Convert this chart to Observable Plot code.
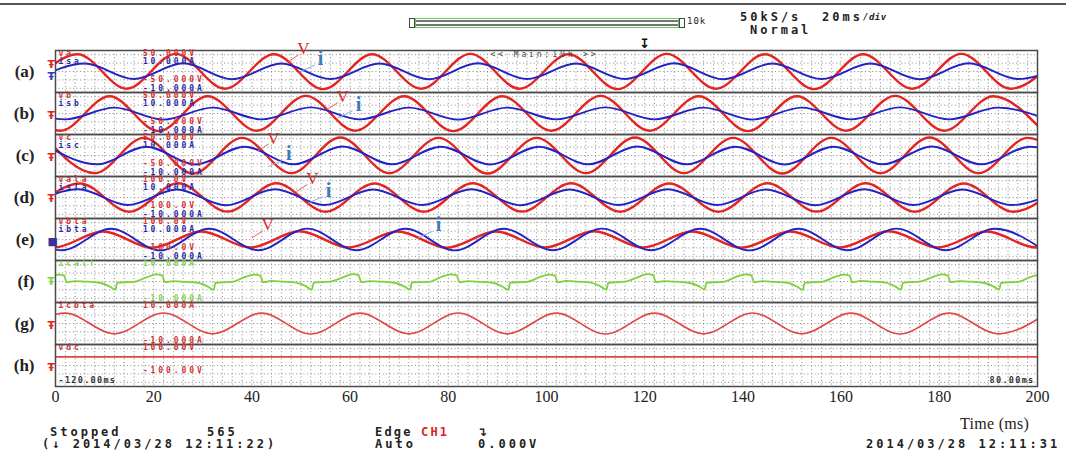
<!DOCTYPE html>
<html><head><meta charset="utf-8">
<script src="https://cdn.jsdelivr.net/npm/d3@7"></script>
<script src="https://cdn.jsdelivr.net/npm/@observablehq/plot@0.6"></script>
<style>
body{margin:0;background:#fff;}
#wrap{position:relative;width:1066px;height:450px;overflow:hidden;background:#fff;}
#wrap svg{position:absolute;left:0;top:0;}
.ov{position:absolute;font-family:"DejaVu Sans Mono",monospace;font-weight:bold;font-size:12px;letter-spacing:3px;color:#222;white-space:pre;line-height:1;}
</style></head><body><div id="wrap"></div>
<script>
// ---------- data ----------
const panels = ["a","b","c","d","e","f","g","h"];
const xTicks = [0,20,40,60,80,100,120,140,160,180,200];

// channel meta
const chNames  = ["va","isa","vb","isb","vc","isc","vala","isla","vbta","ibta","icalf","icbta","vdc"];
const chPanels = ["a","a","b","b","c","c","d","d","e","e","f","g","h"];
const chRanges = [50,10,50,10,50,10,100,10,100,10,10,10,100];

const va_t = [-5.5,4.5,14.5,24.5,34.5,44.5,54.5,64.5,74.5,84.5,94.5,104.5,114.5,124.5,134.5,144.5,154.5,164.5,174.5,184.5,194.5,204.5];
const va_v = [-41,41,-41,42,-41,41,-42,41,-41,42,-41,41,-42,42,-41,41,-42,41,-41,42,-41,41];
const isa_t = [-4,6,16,26,36,46,56,66,76,86,96,106,116,126,136,146,156,166,176,186,196,206];
const isa_v = [-3.6,3.8,-3.6,3.9,-3.7,3.8,-3.6,3.8,-3.7,3.9,-3.6,3.8,-3.6,3.9,-3.7,3.8,-3.6,3.8,-3.7,3.9,-3.6,3.8];
const vb_t = [-9,1,11,21,31,41,51,61,71,81,91,101,111,121,131,141,151,161,171,181,191,201];
const vb_v = [41,-41,41,-42,41,-41,42,-41,41,-42,41,-41,42,-41,41,-42,41,-41,42,-41,41,-41];
const isb_t = [-8,2,12,22,32,42,52,62,72,82,92,102,112,122,132,142,152,162,172,182,192,202];
const isb_v = [2.8,-2.8,2.8,-2.9,2.8,-2.8,2.9,-2.8,2.8,-2.9,2.8,-2.8,2.9,-2.8,2.8,-2.9,2.8,-2.8,2.9,-2.8,2.8,-2.8];
const vc_t = [-2,8,18,28,38,48,58,68,78,88,98,108,118,128,138,148,158,168,178,188,198,208];
const vc_v = [42,-42,42,-43,42,-42,43,-42,42,-43,42,-42,43,-42,42,-43,42,-42,43,-42,42,-42];
const isc_t = [-1.5,8.5,18.5,28.5,38.5,48.5,58.5,68.5,78.5,88.5,98.5,108.5,118.5,128.5,138.5,148.5,158.5,168.5,178.5,188.5,198.5,208.5];
const isc_v = [4.2,-4.2,4.2,-4.3,4.2,-4.2,4.3,-4.2,4.2,-4.3,4.2,-4.2,4.3,-4.2,4.2,-4.3,4.2,-4.2,4.3,-4.2,4.2,-4.2];
const vala_t = [-5,5,15,25,35,45,55,65,75,85,95,105,115,125,135,145,155,165,175,185,195,205];
const vala_v = [-68,67,-68,68,-67,68,-68,67,-68,68,-67,68,-68,67,-68,68,-67,68,-68,67,-68,68];
const isla_t = [-5.3,4.7,14.7,24.7,34.7,44.7,54.7,64.7,74.7,84.7,94.7,104.7,114.7,124.7,134.7,144.7,154.7,164.7,174.7,184.7,194.7,204.7];
const isla_v = [-3.6,3.9,-3.6,3.8,-3.7,3.9,-3.6,3.8,-3.6,3.9,-3.7,3.8,-3.6,3.9,-3.6,3.8,-3.7,3.9,-3.6,3.8,-3.6,3.9];
const vbta_t = [-10.3,-0.3,9.7,19.7,29.7,39.7,49.7,59.7,69.7,79.7,89.7,99.7,109.7,119.7,129.7,139.7,149.7,159.7,169.7,179.7,189.7,199.7,209.7];
const vbta_v = [38,-38,38,-39,38,-38,39,-38,38,-39,38,-38,39,-38,38,-39,38,-38,39,-38,38,-38,38];
const ibta_t = [-8.7,1.3,11.3,21.3,31.3,41.3,51.3,61.3,71.3,81.3,91.3,101.3,111.3,121.3,131.3,141.3,151.3,161.3,171.3,181.3,191.3,201.3];
const ibta_v = [5.1,-5.1,5.1,-5.2,5.1,-5.1,5.2,-5.1,5.1,-5.2,5.1,-5.1,5.2,-5.1,5.1,-5.2,5.1,-5.1,5.2,-5.1,5.1,-5.1];
const icalf_t = [-1.5,
 0.5,1.7,2.3,4,6.5,9,11,12.2,12.6,16,18.5,
 20.5,21.7,22.3,24,26.5,29,31,32.2,32.6,36,38.5,
 40.5,41.7,42.3,44,46.5,49,51,52.2,52.6,56,58.5,
 60.5,61.7,62.3,64,66.5,69,71,72.2,72.6,76,78.5,
 80.5,81.7,82.3,84,86.5,89,91,92.2,92.6,96,98.5,
 100.5,101.7,102.3,104,106.5,109,111,112.2,112.6,116,118.5,
 120.5,121.7,122.3,124,126.5,129,131,132.2,132.6,136,138.5,
 140.5,141.7,142.3,144,146.5,149,151,152.2,152.6,156,158.5,
 160.5,161.7,162.3,164,166.5,169,171,172.2,172.6,176,178.5,
 180.5,181.7,182.3,184,186.5,189,191,192.2,192.6,196,198.5,
 200.5];
const icalf_v = [2.0,
 3.3,2.9,-0.4,0.2,-0.1,-0.6,-2.3,-3.8,-0.5,-0.2,2.0,
 3.4,2.9,-0.3,0.2,-0.2,-0.6,-2.4,-4.0,-0.6,-0.2,2.1,
 3.3,2.8,-0.4,0.3,-0.1,-0.5,-2.2,-3.9,-0.5,-0.1,2.0,
 3.5,2.9,-0.3,0.2,-0.1,-0.6,-2.3,-3.8,-0.4,-0.2,2.1,
 3.4,2.9,-0.4,0.2,-0.2,-0.6,-2.4,-4.0,-0.5,-0.2,2.0,
 3.3,2.8,-0.4,0.3,-0.1,-0.5,-2.3,-3.9,-0.6,-0.1,2.0,
 3.5,3.0,-0.3,0.2,-0.1,-0.6,-2.2,-3.8,-0.5,-0.2,2.1,
 3.4,2.9,-0.4,0.2,-0.2,-0.6,-2.4,-4.0,-0.5,-0.2,2.0,
 3.3,2.8,-0.4,0.3,-0.1,-0.5,-2.3,-3.9,-0.5,-0.1,2.0,
 3.4,2.9,-0.3,0.2,-0.1,-0.6,-2.3,-3.8,-0.6,-0.2,2.1,
 3.4];
const icbta_t = [-8,2,12,22,32,42,52,62,72,82,92,102,112,122,132,142,152,162,172,182,192,202];
const icbta_v = [-4.9,4.9,-4.9,5.0,-4.9,4.9,-5.0,4.9,-4.9,5.0,-4.9,4.9,-5.0,4.9,-4.9,5.0,-4.9,4.9,-5.0,4.9,-4.9,4.9];
const vdc_t = [0,200];
const vdc_v = [41,41];

const chTimes  = [va_t,isa_t,vb_t,isb_t,vc_t,isc_t,vala_t,isla_t,vbta_t,ibta_t,icalf_t,icbta_t,vdc_t];
const chValues = [va_v,isa_v,vb_v,isb_v,vc_v,isc_v,vala_v,isla_v,vbta_v,ibta_v,icalf_v,icbta_v,vdc_v];

// per-panel screen labels
const nameTop   = ["va","vb","vc","vala","vbta","icalf","icbta","vdc"];
const nameBot   = ["isa","isb","isc","isla","ibta","","",""];
const scaleTop1 = ["50.000V","50.000V","50.000V","100.0V","100.0V","10.000A","10.000A","100.00V"];
const scaleTop2 = ["10.000A","10.000A","10.000A","10.000A","10.000A","","",""];
const scaleBot1 = ["-50.000V","-50.000V","-50.000V","-100.0V","-100.0V","","","-100.00V"];
const scaleBot2 = ["-10.000A","-10.000A","-10.000A","-10.000A","-10.000A","-10.000A","-10.000A",""];

// ---------- build table ----------
const RED="#e3241f", BLUE="#2323c4", GREEN="#7fd13b", RED2="#e04848";
const TRED="#d43434", TBLUE="#2a2aa6", TGREEN="#86d050";
const rows=[];
chNames.forEach((name,i)=>{
  chTimes[i].forEach((t,j)=>rows.push({panel:chPanels[i],ch:name,t,v:chValues[i][j]/chRanges[i]}));
});
const grp = names => rows.filter(d=>names.includes(d.ch));

const labels=[];
panels.forEach((p,i)=>{
  const topCol = p==="f"?TGREEN:TRED;
  const c2 = p==="f"?TGREEN:(p==="g"||p==="h")?TRED:TBLUE;
  labels.push({panel:p,kind:"name",row:0.86,text:nameTop[i],fill:topCol});
  if(nameBot[i]) labels.push({panel:p,kind:"name",row:0.47,text:nameBot[i],fill:TBLUE});
  labels.push({panel:p,kind:"scale",row:0.86,text:scaleTop1[i],fill:topCol});
  if(scaleTop2[i]) labels.push({panel:p,kind:"scale",row:0.47,text:scaleTop2[i],fill:TBLUE});
  if(scaleBot1[i]) labels.push({panel:p,kind:"scale",row:p==="h"?-0.25:-0.40,text:scaleBot1[i],fill:TRED});
  if(scaleBot2[i]) labels.push({panel:p,kind:"scale",row:-0.80,text:scaleBot2[i],fill:c2});
});

const gridT = d3.range(0,200.01,2);
const gridY = [-0.8,-0.4,0,0.4,0.8];

const annV = [{panel:"a",t:50.5,y:1.07},{panel:"b",t:58.5,y:0.8},{panel:"c",t:44.4,y:0.83},{panel:"d",t:52.3,y:0.9},{panel:"e",t:43.2,y:0.69}];
const annI = [{panel:"a",t:54,y:0.6},{panel:"b",t:61.7,y:0.42},{panel:"c",t:47.5,y:0.08},{panel:"d",t:55.6,y:0.34},{panel:"e",t:78,y:0.69}];
const gnd = [
 {panel:"a",text:"Ŧ",fill:RED,y:0.32},{panel:"a",text:"Ŧ",fill:"#3838c8",y:-0.22},
 {panel:"b",text:"Ŧ",fill:RED,y:-0.1},{panel:"c",text:"Ŧ",fill:RED,y:-0.1},
 {panel:"d",text:"Ŧ",fill:RED,y:-0.05},{panel:"e",text:"■",fill:"#3d2f9c",y:-0.1},
 {panel:"f",text:"Ŧ",fill:GREEN,y:0},{panel:"g",text:"Ŧ",fill:RED,y:-0.1},{panel:"h",text:"Ŧ",fill:RED,y:-0.1}];

const lo = {x:"t",y:"v",z:"ch",fy:"panel",curve:"monotone-x",clip:true};
const mono = "DejaVu Sans Mono";
const mono2 = "DejaVu Sans Mono, monospace";

const chart = Plot.plot({
  width:1066, height:450,
  marginLeft:55, marginRight:29, marginTop:47, marginBottom:62,
  style:{background:"transparent",fontFamily:"'Liberation Serif', serif",fontSize:"16px",color:"#222",overflow:"visible"},
  x:{domain:[0,200],ticks:xTicks,tickSize:0,tickPadding:4,label:null},
  y:{domain:[-1,1],axis:null},
  fy:{domain:panels,padding:0,axis:"left",tickSize:0,tickPadding:21,tickFormat:d=>`(${d})`,label:null},
  marks:[
    Plot.ruleX(gridT,{x:d=>d,stroke:"#8a8a8a",strokeWidth:1,strokeDasharray:"1,2.6"}),
    Plot.ruleY(gridY,{y:d=>d,stroke:"#8a8a8a",strokeWidth:1,strokeDasharray:"1,2.6"}),
    Plot.line(grp(["va","vb","vc","vala","vbta"]),{...lo,stroke:RED,strokeWidth:2.4}),
    Plot.line(grp(["isa","isb","isc","isla","ibta"]),{...lo,stroke:BLUE,strokeWidth:1.9}),
    Plot.line(grp(["icalf"]),{...lo,stroke:GREEN,strokeWidth:1.8}),
    Plot.line(grp(["icbta","vdc"]),{...lo,stroke:RED2,strokeWidth:1.7}),
    Plot.frame({stroke:"#4a4a4a",strokeWidth:1.5}),
    Plot.text(labels.filter(d=>d.kind==="name"),{frameAnchor:"left",dx:3,y:"row",fy:"panel",text:"text",fill:"fill",textAnchor:"start",fontFamily:mono,fontSize:8,fontWeight:"bold"}),
    Plot.text(labels.filter(d=>d.kind==="scale"),{x:()=>17.8,y:"row",fy:"panel",text:"text",fill:"fill",textAnchor:"start",fontFamily:mono,fontSize:8,fontWeight:"bold"}),
    Plot.text([{panel:"a"}],{x:()=>99.6,y:()=>0.83,fy:"panel",text:()=>"<< Main:10k >>",fill:"#444",fontFamily:mono,fontSize:8}),
    Plot.text([{panel:"a",t:120}],{x:"t",y:()=>1.33,fy:"panel",text:()=>"↧",fill:"#111",fontFamily:"DejaVu Sans",fontSize:13,fontWeight:"bold"}),
    Plot.text([{panel:"h"}],{frameAnchor:"bottom-left",dx:3,dy:-4,fy:"panel",text:()=>"-120.00ms",fill:"#333",fontFamily:mono2,fontSize:8.5,fontWeight:"bold"}),
    Plot.text([{panel:"h"}],{frameAnchor:"bottom-right",dx:-3,dy:-4,fy:"panel",text:()=>"80.00ms",fill:"#333",fontFamily:mono2,fontSize:8.5,fontWeight:"bold"}),
    Plot.link(annV,{x1:d=>d.t-1,y1:d=>d.y-0.28,x2:d=>d.t-3.2,y2:d=>d.y-0.62,fy:"panel",stroke:"#e06060",strokeWidth:1}),
    Plot.link(annI,{x1:d=>d.t-1.2,y1:d=>d.y-0.3,x2:d=>d.t-4.2,y2:d=>d.y-0.62,fy:"panel",stroke:"#7fb0dd",strokeWidth:1}),
    Plot.text(annV,{x:"t",y:"y",fy:"panel",text:()=>"V",fill:"#dd2a2a",fontFamily:"Liberation Serif",fontSize:17}),
    Plot.text(annI,{x:"t",y:"y",fy:"panel",text:()=>"i",fill:"#3c7cbc",fontFamily:"Liberation Serif",fontSize:20,fontWeight:"bold"}),
    Plot.text(gnd,{frameAnchor:"left",dx:-8,y:"y",fy:"panel",text:"text",fill:"fill",fontFamily:"DejaVu Sans",fontSize:11,fontWeight:"bold"})
  ]
});
const wrap=document.getElementById("wrap");
wrap.appendChild(chart);
d3.select(chart).selectAll('[font-family="DejaVu Sans Mono"]').style("letter-spacing","2.9px");
d3.select(chart).selectAll('[font-family="DejaVu Sans Mono, monospace"]').style("letter-spacing","1.3px");
d3.select(chart).selectAll('g[aria-label="fy-axis tick label"] text, g[aria-label="fy-axis"] text').attr("font-weight","bold").attr("font-size","17px");

// ---------- scope screen chrome (HTML overlay) ----------
function ov(text,left,yc,extra){
  const d=document.createElement("div");d.className="ov";d.textContent=text;
  d.style.left=left+"px";d.style.top=(yc-6)+"px";
  if(extra) Object.assign(d.style,extra);
  wrap.appendChild(d);return d;
}
function box(left,top,w,h,css){const d=document.createElement("div");d.style.position="absolute";d.style.left=left+"px";d.style.top=top+"px";d.style.width=w+"px";d.style.height=h+"px";Object.assign(d.style,css||{});wrap.appendChild(d);}
box(0,3,1066,2,{background:"#555"});
box(409,18,4,8,{border:"1px solid #444",background:"#fff"});
box(415,18,262,8,{border:"1.5px solid #66cc55",background:"linear-gradient(#fff 0,#fff 1px,#777 1px,#777 3px,#fff 3px,#fff 5px,#777 5px,#777 7px,#fff 7px)"});
box(679,18,4,8,{border:"1px solid #444",background:"#fff"});
ov("10k",687,23,{fontSize:"9px",letterSpacing:"1px",fontWeight:"normal"});
ov("50kS/s",740,17);
ov("20ms",822,17);
ov("/div",863,19,{fontSize:"9px",letterSpacing:"0.5px",fontStyle:"italic"});
ov("Normal",750,30);
ov("Time (ms)",960,422,{fontFamily:"'Liberation Serif',serif",fontWeight:"normal",fontSize:"16px",letterSpacing:"0.3px"});
ov("Stopped",50,432);
ov("565",207,432);
ov("(↓ 2014/03/28 12:11:22)",42,444);
ov("Edge",375,432,{letterSpacing:"2.2px"});
ov("CH1",421,432,{color:"#dd2222",letterSpacing:"2.2px"});
ov("↴",477,432,{fontFamily:"DejaVu Sans"});
ov("Auto",375,444);
ov("0.000V",478,444);
ov("2014/03/28 12:11:31",866,444);
</script></body></html>
